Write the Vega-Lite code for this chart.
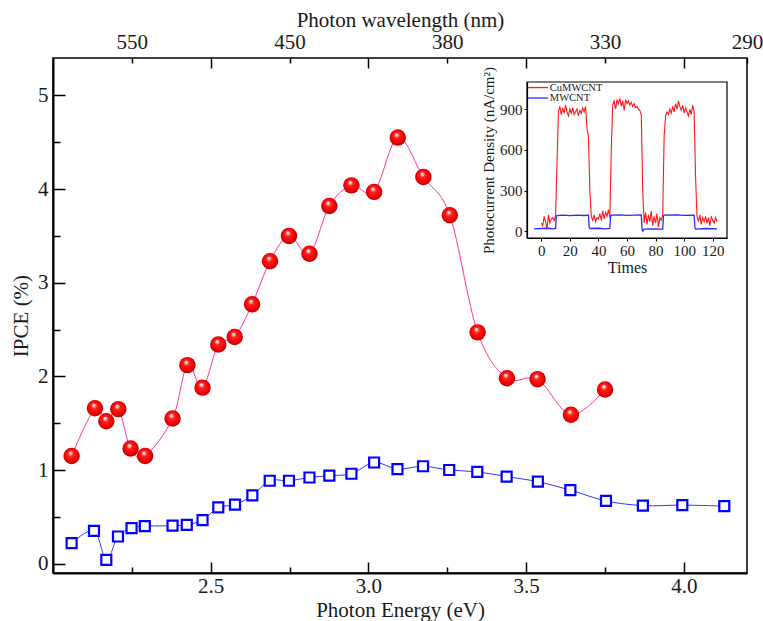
{
 "$schema": "https://vega.github.io/schema/vega-lite/v6.json",
 "width": 694,
 "height": 515,
 "autosize": {"type": "none"},
 "padding": {"left": 53, "top": 58, "right": 16, "bottom": 48},
 "config": {
  "font": "Liberation Serif",
  "view": {"stroke": "black", "strokeWidth": 1.5},
  "axis": {"labelFont": "Liberation Serif", "titleFont": "Liberation Serif", "labelColor": "#1a1a1a", "titleColor": "#1a1a1a", "titleFontWeight": "normal", "grid": false, "domainColor": "black", "tickColor": "black", "labelOverlap": false, "labelFlush": false}
 },
 "datasets": {
  "cu": [
   {"E": 2.059, "ipce": 1.15}, {"E": 2.133, "ipce": 1.66}, {"E": 2.169, "ipce": 1.52}, {"E": 2.207, "ipce": 1.65}, {"E": 2.246, "ipce": 1.23}, {"E": 2.292, "ipce": 1.15}, {"E": 2.379, "ipce": 1.55}, {"E": 2.426, "ipce": 2.12}, {"E": 2.474, "ipce": 1.88}, {"E": 2.524, "ipce": 2.34}, {"E": 2.576, "ipce": 2.42}, {"E": 2.631, "ipce": 2.77}, {"E": 2.688, "ipce": 3.23}, {"E": 2.748, "ipce": 3.5}, {"E": 2.813, "ipce": 3.31}, {"E": 2.876, "ipce": 3.82}, {"E": 2.946, "ipce": 4.04}, {"E": 3.018, "ipce": 3.97}, {"E": 3.093, "ipce": 4.55}, {"E": 3.174, "ipce": 4.13}, {"E": 3.258, "ipce": 3.72}, {"E": 3.346, "ipce": 2.47}, {"E": 3.439, "ipce": 1.98}, {"E": 3.536, "ipce": 1.97}, {"E": 3.642, "ipce": 1.59}, {"E": 3.75, "ipce": 1.86}
  ],
  "mw": [
   {"E": 2.059, "ipce": 0.22}, {"E": 2.13, "ipce": 0.35}, {"E": 2.169, "ipce": 0.04}, {"E": 2.206, "ipce": 0.29}, {"E": 2.249, "ipce": 0.38}, {"E": 2.291, "ipce": 0.4}, {"E": 2.379, "ipce": 0.405}, {"E": 2.424, "ipce": 0.415}, {"E": 2.474, "ipce": 0.465}, {"E": 2.524, "ipce": 0.6}, {"E": 2.577, "ipce": 0.63}, {"E": 2.632, "ipce": 0.73}, {"E": 2.687, "ipce": 0.885}, {"E": 2.748, "ipce": 0.885}, {"E": 2.813, "ipce": 0.92}, {"E": 2.876, "ipce": 0.94}, {"E": 2.946, "ipce": 0.96}, {"E": 3.018, "ipce": 1.08}, {"E": 3.092, "ipce": 1.01}, {"E": 3.173, "ipce": 1.04}, {"E": 3.256, "ipce": 1.0}, {"E": 3.345, "ipce": 0.98}, {"E": 3.438, "ipce": 0.93}, {"E": 3.537, "ipce": 0.875}, {"E": 3.64, "ipce": 0.785}, {"E": 3.753, "ipce": 0.67}, {"E": 3.87, "ipce": 0.62}, {"E": 3.995, "ipce": 0.625}, {"E": 4.128, "ipce": 0.615}
  ],
  "photoCu": [
   {"t": 0, "v": 60}, {"t": 1, "v": 40}, {"t": 2, "v": 110}, {"t": 3, "v": 70}, {"t": 4, "v": 15}, {"t": 5, "v": 120}, {"t": 6, "v": 60}, {"t": 7, "v": 90}, {"t": 8, "v": 100}, {"t": 9, "v": 80}, {"t": 10, "v": 110}, {"t": 11, "v": 500}, {"t": 12, "v": 880}, {"t": 13, "v": 920}, {"t": 14, "v": 860}, {"t": 15, "v": 910}, {"t": 16, "v": 870}, {"t": 17, "v": 930}, {"t": 18, "v": 880}, {"t": 19, "v": 850}, {"t": 20, "v": 900}, {"t": 21, "v": 870}, {"t": 22, "v": 910}, {"t": 23, "v": 860}, {"t": 24, "v": 880}, {"t": 25, "v": 900}, {"t": 26, "v": 850}, {"t": 27, "v": 890}, {"t": 28, "v": 870}, {"t": 29, "v": 910}, {"t": 30, "v": 880}, {"t": 31, "v": 920}, {"t": 32, "v": 760}, {"t": 33, "v": 700}, {"t": 34, "v": 300}, {"t": 35, "v": 110}, {"t": 36, "v": 80}, {"t": 37, "v": 120}, {"t": 38, "v": 70}, {"t": 39, "v": 100}, {"t": 40, "v": 90}, {"t": 41, "v": 130}, {"t": 42, "v": 80}, {"t": 43, "v": 150}, {"t": 44, "v": 90}, {"t": 45, "v": 140}, {"t": 46, "v": 110}, {"t": 47, "v": 160}, {"t": 48, "v": 100}, {"t": 49, "v": 600}, {"t": 50, "v": 930}, {"t": 51, "v": 960}, {"t": 52, "v": 900}, {"t": 53, "v": 970}, {"t": 54, "v": 940}, {"t": 55, "v": 980}, {"t": 56, "v": 920}, {"t": 57, "v": 960}, {"t": 58, "v": 890}, {"t": 59, "v": 970}, {"t": 60, "v": 940}, {"t": 61, "v": 960}, {"t": 62, "v": 930}, {"t": 63, "v": 950}, {"t": 64, "v": 920}, {"t": 65, "v": 940}, {"t": 66, "v": 910}, {"t": 67, "v": 920}, {"t": 68, "v": 900}, {"t": 69, "v": 890}, {"t": 70, "v": 860}, {"t": 71, "v": 300}, {"t": 72, "v": 60}, {"t": 73, "v": 140}, {"t": 74, "v": 50}, {"t": 75, "v": 120}, {"t": 76, "v": 70}, {"t": 77, "v": 150}, {"t": 78, "v": 40}, {"t": 79, "v": 110}, {"t": 80, "v": 60}, {"t": 81, "v": 130}, {"t": 82, "v": 30}, {"t": 83, "v": 100}, {"t": 84, "v": 80}, {"t": 85, "v": 120}, {"t": 86, "v": 700}, {"t": 87, "v": 850}, {"t": 88, "v": 880}, {"t": 89, "v": 860}, {"t": 90, "v": 900}, {"t": 91, "v": 870}, {"t": 92, "v": 920}, {"t": 93, "v": 880}, {"t": 94, "v": 940}, {"t": 95, "v": 900}, {"t": 96, "v": 960}, {"t": 97, "v": 920}, {"t": 98, "v": 890}, {"t": 99, "v": 930}, {"t": 100, "v": 870}, {"t": 101, "v": 910}, {"t": 102, "v": 880}, {"t": 103, "v": 850}, {"t": 104, "v": 900}, {"t": 105, "v": 860}, {"t": 106, "v": 930}, {"t": 107, "v": 880}, {"t": 108, "v": 400}, {"t": 109, "v": 110}, {"t": 110, "v": 70}, {"t": 111, "v": 120}, {"t": 112, "v": 50}, {"t": 113, "v": 100}, {"t": 114, "v": 70}, {"t": 115, "v": 110}, {"t": 116, "v": 60}, {"t": 117, "v": 100}, {"t": 118, "v": 40}, {"t": 119, "v": 110}, {"t": 120, "v": 80}, {"t": 121, "v": 60}, {"t": 122, "v": 100}, {"t": 123, "v": 70}
  ],
  "photoMw": [
   {"t": -5, "v": 18}, {"t": 0, "v": 20}, {"t": 5, "v": 22}, {"t": 8, "v": 18}, {"t": 10, "v": 20}, {"t": 10.5, "v": 110}, {"t": 11, "v": 115}, {"t": 15, "v": 118}, {"t": 20, "v": 115}, {"t": 25, "v": 118}, {"t": 30, "v": 116}, {"t": 33, "v": 118}, {"t": 33.5, "v": 30}, {"t": 34, "v": 20}, {"t": 40, "v": 22}, {"t": 45, "v": 18}, {"t": 48, "v": 20}, {"t": 48.5, "v": 110}, {"t": 49, "v": 118}, {"t": 55, "v": 120}, {"t": 60, "v": 117}, {"t": 65, "v": 118}, {"t": 70, "v": 120}, {"t": 70.5, "v": 20}, {"t": 71, "v": 0}, {"t": 72, "v": 15}, {"t": 78, "v": 18}, {"t": 85, "v": 15}, {"t": 85.5, "v": 110}, {"t": 86, "v": 118}, {"t": 95, "v": 120}, {"t": 100, "v": 117}, {"t": 107, "v": 118}, {"t": 107.5, "v": 30}, {"t": 108, "v": 15}, {"t": 115, "v": 20}, {"t": 123, "v": 18}
  ],
  "legend": [
   {"x1": -9.3, "x2": 4.7, "xt": 6, "y": 1059, "s": "CuMWCNT"}, {"x1": -9.3, "x2": 4.7, "xt": 6, "y": 982, "s": "MWCNT"}
  ]
 },
 "layer": [
  {
   "data": {"name": "cu"},
   "mark": {"type": "line", "interpolate": "cardinal", "color": "#ff3399", "strokeWidth": 1},
   "encoding": {
    "x": {"field": "E", "type": "quantitative", "scale": {"domain": [2.0, 4.2], "nice": false, "zero": false},
     "axis": {"orient": "bottom", "values": [2.25, 2.5, 2.75, 3.0, 3.25, 3.5, 3.75, 4.0],
      "labelExpr": "datum.value*2 == round(datum.value*2) ? format(datum.value, '.1f') : ''",
      "tickSize": {"condition": {"test": "datum.value*2 == round(datum.value*2)", "value": -11}, "value": -6},
      "tickWidth": 1.5, "domainWidth": 2, "labelFontSize": 21, "labelPadding": 13, "title": "Photon Energy (eV)", "titleFontSize": 21, "titlePadding": -2}},
    "y": {"field": "ipce", "type": "quantitative", "scale": {"domain": [-0.1, 5.4], "nice": false, "zero": false},
     "axis": {"orient": "left", "values": [0, 0.5, 1, 1.5, 2, 2.5, 3, 3.5, 4, 4.5, 5],
      "labelExpr": "datum.value == round(datum.value) ? format(datum.value, 'd') : ''",
      "tickSize": {"condition": {"test": "datum.value == round(datum.value)", "value": -12}, "value": -7},
      "tickWidth": 1.5, "domainWidth": 2, "labelFontSize": 21, "labelPadding": 17, "title": "IPCE (%)", "titleFontSize": 21, "titlePadding": 6}}
   }
  },
  {
   "data": {"name": "mw"},
   "mark": {"type": "line", "interpolate": "cardinal", "color": "#3333ff", "strokeWidth": 1},
   "encoding": {
    "x": {"field": "E", "type": "quantitative", "scale": {"domain": [2.0, 4.2], "nice": false, "zero": false},
     "axis": {"orient": "top", "values": [2.25, 2.5, 2.75, 3.0, 3.25, 3.5, 3.75, 4.0, 4.2],
      "labelExpr": "datum.value == 2.25 ? '550' : datum.value == 2.75 ? '450' : datum.value == 3.25 ? '380' : datum.value == 3.75 ? '330' : datum.value == 4.2 ? '290' : ''",
      "tickSize": {"condition": {"test": "datum.value*2 == round(datum.value*2)", "value": -10}, "value": -5},
      "tickWidth": 1.5, "domain": false, "labelFontSize": 21, "labelPadding": 11, "title": "Photon wavelength (nm)", "titleFontSize": 21, "titlePadding": 1}},
    "y": {"field": "ipce", "type": "quantitative", "scale": {"domain": [-0.1, 5.4], "nice": false, "zero": false}, "axis": null}
   }
  },
  {
   "data": {"name": "mw"},
   "mark": {"type": "point", "shape": "square", "filled": false, "stroke": "#0000ff", "strokeWidth": 2.2, "fill": "white", "fillOpacity": 1, "size": 100, "opacity": 1},
   "encoding": {
    "x": {"field": "E", "type": "quantitative", "scale": {"domain": [2.0, 4.2], "nice": false, "zero": false}, "axis": null},
    "y": {"field": "ipce", "type": "quantitative", "scale": {"domain": [-0.1, 5.4], "nice": false, "zero": false}, "axis": null}
   }
  },
  {
   "data": {"name": "cu"},
   "mark": {"type": "point", "shape": "circle", "filled": true, "size": 270, "opacity": 1, "strokeWidth": 0,
    "fill": {"gradient": "radial", "x1": 0.42, "y1": 0.3, "r1": 0, "x2": 0.5, "y2": 0.5, "r2": 0.55,
     "stops": [{"offset": 0, "color": "#ffffff"}, {"offset": 0.12, "color": "#ffd0d0"}, {"offset": 0.3, "color": "#ff2020"}, {"offset": 0.75, "color": "#ee0000"}, {"offset": 1, "color": "#a00000"}]}},
   "encoding": {
    "x": {"field": "E", "type": "quantitative", "scale": {"domain": [2.0, 4.2], "nice": false, "zero": false}, "axis": null},
    "y": {"field": "ipce", "type": "quantitative", "scale": {"domain": [-0.1, 5.4], "nice": false, "zero": false}, "axis": null}
   }
  },
  {
   "data": {"name": "photoCu"},
   "mark": {"type": "line", "color": "#ff1a1a", "strokeWidth": 1.1},
   "encoding": {
    "x": {"field": "t", "type": "quantitative", "scale": {"domain": [-10, 130], "range": [474, 674], "nice": false, "zero": false},
     "axis": {"orient": "bottom", "offset": -335, "values": [0, 20, 40, 60, 80, 100, 120], "format": "d", "tickSize": 3, "tickWidth": 1, "domainWidth": 1.2, "labelFontSize": 15, "labelPadding": 2, "title": "Times", "titleFontSize": 16, "titlePadding": 1}},
    "y": {"field": "v", "type": "quantitative", "scale": {"domain": [-50, 1100], "range": [180, 24], "nice": false, "zero": false},
     "axis": {"orient": "left", "offset": -474, "values": [0, 300, 600, 900], "format": "d", "tickSize": 3, "tickWidth": 1, "domainWidth": 1.2, "labelFontSize": 15, "labelPadding": 2, "title": "Photocurrent Density (nA/cm²)", "titleFontSize": 15, "titlePadding": 3}}
   }
  },
  {
   "data": {"name": "photoMw"},
   "mark": {"type": "line", "color": "#2a2aff", "strokeWidth": 1.3},
   "encoding": {
    "x": {"field": "t", "type": "quantitative", "scale": {"domain": [-10, 130], "range": [474, 674], "nice": false, "zero": false}, "axis": null},
    "y": {"field": "v", "type": "quantitative", "scale": {"domain": [-50, 1100], "range": [180, 24], "nice": false, "zero": false}, "axis": null}
   }
  },
  {
   "data": {"values": [{}]},
   "mark": {"type": "rect", "filled": false, "stroke": "black", "strokeWidth": 1.2},
   "encoding": {
    "x": {"datum": -10, "type": "quantitative", "scale": {"domain": [-10, 130], "range": [474, 674], "nice": false, "zero": false}, "axis": null},
    "x2": {"datum": 130},
    "y": {"datum": -50, "type": "quantitative", "scale": {"domain": [-50, 1100], "range": [180, 24], "nice": false, "zero": false}, "axis": null},
    "y2": {"datum": 1100}
   }
  },
  {
   "data": {"name": "legend"},
   "mark": {"type": "rule", "strokeWidth": 1.3},
   "encoding": {
    "x": {"field": "x1", "type": "quantitative", "scale": {"domain": [-10, 130], "range": [474, 674], "nice": false, "zero": false}, "axis": null},
    "x2": {"field": "x2"},
    "y": {"field": "y", "type": "quantitative", "scale": {"domain": [-50, 1100], "range": [180, 24], "nice": false, "zero": false}, "axis": null},
    "color": {"field": "s", "type": "nominal", "scale": {"domain": ["CuMWCNT", "MWCNT"], "range": ["#ff1a1a", "#2a2aff"]}, "legend": null}
   }
  },
  {
   "data": {"name": "legend"},
   "mark": {"type": "text", "align": "left", "baseline": "middle", "fontSize": 10.5, "font": "Liberation Serif", "color": "#1a1a1a"},
   "encoding": {
    "x": {"field": "xt", "type": "quantitative", "scale": {"domain": [-10, 130], "range": [474, 674], "nice": false, "zero": false}, "axis": null},
    "y": {"field": "y", "type": "quantitative", "scale": {"domain": [-50, 1100], "range": [180, 24], "nice": false, "zero": false}, "axis": null},
    "text": {"field": "s"}
   }
  }
 ],
 "resolve": {"scale": {"x": "independent", "y": "independent"}}
}
